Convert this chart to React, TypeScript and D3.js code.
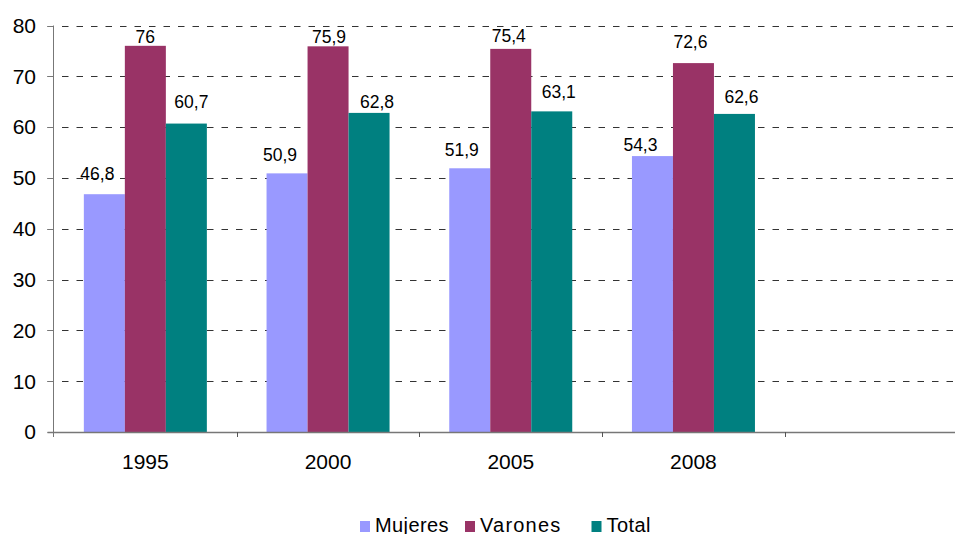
import React, { useEffect, useRef } from "react";
import * as d3 from "d3";

// categories (the last slot is empty in the original chart)
const years = ["1995", "2000", "2005", "2008", ""];
const seriesNames = ["Mujeres", "Varones", "Total"];
const mujeres = [46.8, 50.9, 51.9, 54.3];
const varones = [76, 75.9, 75.4, 72.6];
const total = [60.7, 62.8, 63.1, 62.6];
const yTicks = [0, 10, 20, 30, 40, 50, 60, 70, 80];

const colors = ["#9999FF", "#993366", "#008080"];

// label nudges [dx from bar centre, gap above bar top], as placed in the original
const labelShift = [
  [[-7, 14], [-7, 12], [-8, 12], [-12, 5]],
  [[0, 3], [1, 3], [-2, 7], [-3, 15]],
  [[5, 16], [8, 5], [7, 13], [7, 11]],
];

const W = 955;
const H = 534;
const font = "'Liberation Sans', Arial, sans-serif";

export default function App() {
  const ref = useRef<SVGSVGElement>(null);

  useEffect(() => {
    const svg = d3.select(ref.current);
    svg.selectAll("*").remove();

    const values = [mujeres, varones, total];

    const x0 = d3.scaleBand().domain(years).range([54, 54 + 182.7 * 5]).paddingInner(0);
    const x1 = d3.scaleBand().domain(seriesNames).range([0, x0.bandwidth()]).paddingInner(0).paddingOuter(0.728);
    const y = d3.scaleLinear().domain([0, 80]).range([432, 25.5]);

    // gridlines
    svg.append("g")
      .selectAll("line")
      .data(yTicks.filter(d => d > 0))
      .join("line")
        .attr("x1", 47.5)
        .attr("x2", W)
        .attr("y1", d => Math.round(y(d)) + 0.5)
        .attr("y2", d => Math.round(y(d)) + 0.5)
        .attr("stroke", "#333")
        .attr("stroke-dasharray", "6.5,8");

    // bars
    seriesNames.forEach((s, si) => {
      svg.append("g")
        .attr("fill", colors[si])
        .selectAll("rect")
        .data(values[si])
        .join("rect")
          .attr("x", (d, i) => x0(years[i])! + x1(s)!)
          .attr("y", d => y(d))
          .attr("width", x1.bandwidth())
          .attr("height", d => y(0) - y(d));
    });

    // y axis
    const ya = svg.append("g").attr("transform", "translate(53.5,0)");
    ya.append("line").attr("y1", y(80)).attr("y2", y(0) + 5).attr("stroke", "#777");
    ya.selectAll("line.t")
      .data(yTicks)
      .join("line")
        .attr("class", "t")
        .attr("x1", -6)
        .attr("x2", 0)
        .attr("y1", d => Math.round(y(d)) + 0.5)
        .attr("y2", d => Math.round(y(d)) + 0.5)
        .attr("stroke", "#777");
    ya.selectAll("text")
      .data(yTicks)
      .join("text")
        .attr("x", -17.5)
        .attr("y", d => y(d))
        .attr("dy", "0.35em")
        .attr("text-anchor", "end")
        .attr("font-family", font)
        .attr("font-size", 21)
        .text(d => d);

    // x axis
    const xa = svg.append("g");
    xa.append("line")
      .attr("x1", 47.5).attr("x2", W)
      .attr("y1", 432.5).attr("y2", 432.5)
      .attr("stroke", "#777").attr("stroke-width", 1.3);
    xa.selectAll("line.t")
      .data(years.slice(1))
      .join("line")
        .attr("class", "t")
        .attr("x1", d => Math.round(x0(d)!) + 0.5)
        .attr("x2", d => Math.round(x0(d)!) + 0.5)
        .attr("y1", 432)
        .attr("y2", 437)
        .attr("stroke", "#555");
    xa.selectAll("text")
      .data(years)
      .join("text")
        .attr("x", d => x0(d)! + x0.bandwidth() / 2)
        .attr("y", 469)
        .attr("text-anchor", "middle")
        .attr("font-family", font)
        .attr("font-size", 21)
        .text(d => d);

    // data labels
    seriesNames.forEach((s, si) => {
      svg.append("g")
        .selectAll("text")
        .data(values[si])
        .join("text")
          .attr("x", (d, i) => x0(years[i])! + x1(s)! + x1.bandwidth() / 2 + labelShift[si][i][0])
          .attr("y", (d, i) => y(d) - labelShift[si][i][1])
          .attr("text-anchor", "middle")
          .attr("font-family", font)
          .attr("font-size", 17.5)
          .text(d => String(d).replace(".", ","));
    });

    // legend
    const legendX = [360, 465, 591.5];
    const lg = svg.append("g")
      .selectAll("g")
      .data(seriesNames)
      .join("g")
        .attr("transform", (d, i) => `translate(${legendX[i]},0)`);
    lg.append("rect")
      .attr("y", 521)
      .attr("width", 10)
      .attr("height", 11)
      .attr("fill", (d, i) => colors[i]);
    lg.append("text")
      .attr("x", 15)
      .attr("y", 531.5)
      .attr("font-family", font)
      .attr("font-size", 20)
      .attr("letter-spacing", (d) => (d === "Varones" ? 1.2 : 0.4))
      .text(d => d);
  }, []);

  return (
    <svg ref={ref} width={W} height={H}
      style={{ position: "absolute", left: 0, top: 0, background: "#fff" }} />
  );
}
